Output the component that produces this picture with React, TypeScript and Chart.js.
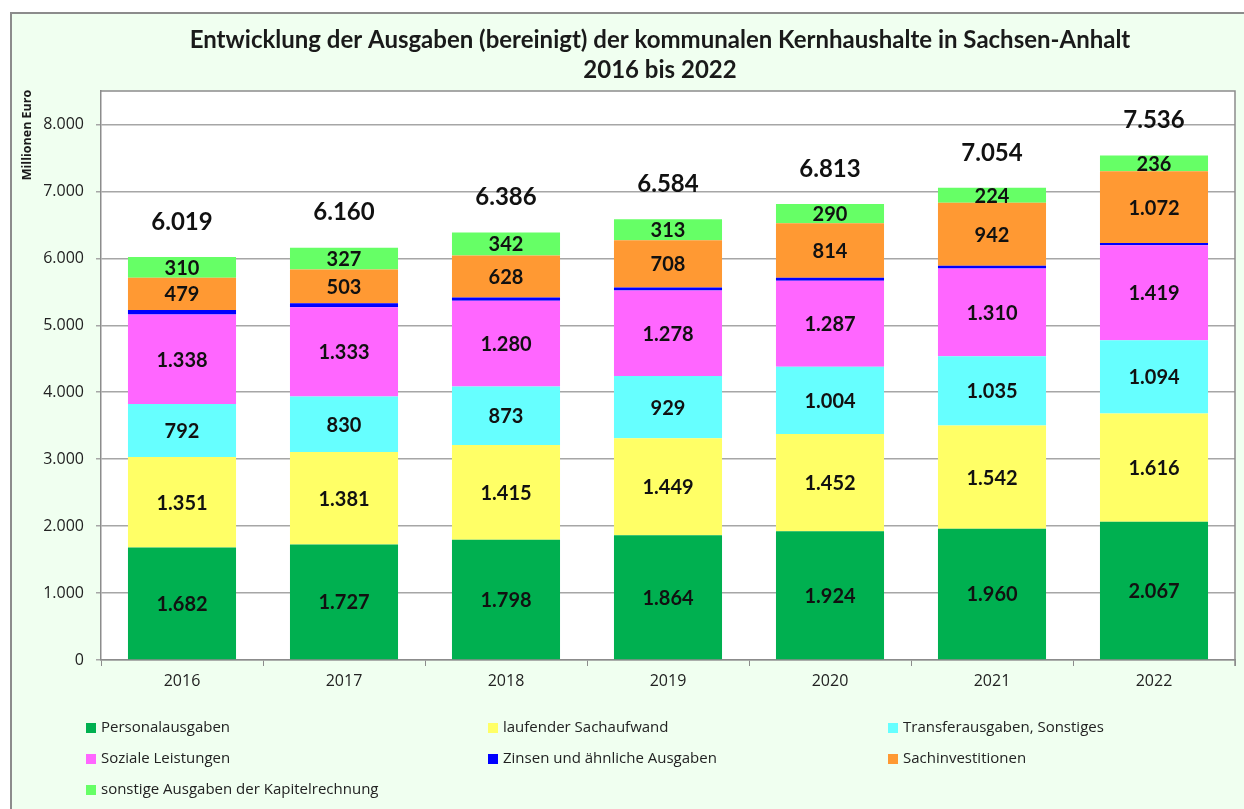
import React, { useEffect, useRef } from "react";
import { Chart, registerables } from "chart.js";
Chart.register(...registerables);

const years = ["2016", "2017", "2018", "2019", "2020", "2021", "2022"];
const personal = [1682, 1727, 1798, 1864, 1924, 1960, 2067];
const sachaufwand = [1351, 1381, 1415, 1449, 1452, 1542, 1616];
const transfer = [792, 830, 873, 929, 1004, 1035, 1094];
const sozial = [1338, 1333, 1280, 1278, 1287, 1310, 1419];
const zinsen = [67, 59, 50, 43, 42, 41, 32];
const sachinv = [479, 503, 628, 708, 814, 942, 1072];
const sonstige = [310, 327, 342, 313, 290, 224, 236];
const totals = [6019, 6160, 6386, 6584, 6813, 7054, 7536];
const yTicks = [0, 1000, 2000, 3000, 4000, 5000, 6000, 7000, 8000];

const seriesNames = [
  "Personalausgaben",
  "laufender Sachaufwand",
  "Transferausgaben, Sonstiges",
  "Soziale Leistungen",
  "Zinsen und ähnliche Ausgaben",
  "Sachinvestitionen",
  "sonstige Ausgaben der Kapitelrechnung",
];
const seriesColors = ["#00b050", "#ffff66", "#66ffff", "#ff66ff", "#0000ff", "#ff9933", "#66ff66"];
const seriesLabeled = [true, true, true, true, false, true, true];
const titleLines = [
  "Entwicklung der Ausgaben (bereinigt) der kommunalen Kernhaushalte in Sachsen-Anhalt",
  "2016 bis 2022",
];
const yTitle = "Millionen Euro";

const FONT = "Lato, 'Open Sans', sans-serif";
const FONT2 = "'Open Sans', Lato, sans-serif";
const fmt = (n: number) => String(n).replace(/\B(?=(\d{3})+(?!\d))/g, ".");

const decorPlugin = {
  id: "decor",
  beforeDraw(chart: any) {
    const { ctx, chartArea: a } = chart;
    ctx.save();
    ctx.fillStyle = "#ffffff";
    ctx.fillRect(a.left, a.top, a.right - a.left, a.bottom - a.top);
    ctx.restore();
  },
  afterDraw(chart: any) {
    const { ctx, chartArea: a } = chart;
    ctx.save();
    ctx.strokeStyle = "#8c8c8c";
    ctx.lineWidth = 1.5;
    ctx.beginPath();
    ctx.moveTo(a.left, a.top);
    ctx.lineTo(a.right, a.top);
    ctx.lineTo(a.right, a.bottom + 6);
    ctx.stroke();
    ctx.fillStyle = "#1a1a1a";
    ctx.font = `bold 24px ${FONT}`;
    ctx.textAlign = "center";
    ctx.textBaseline = "middle";
    const cx = 660;
    ctx.fillText(titleLines[0], cx, 40);
    ctx.fillText(titleLines[1], cx, 70);
    ctx.save();
    ctx.translate(27, 135);
    ctx.rotate(-Math.PI / 2);
    ctx.font = `bold 12.5px ${FONT2}`;
    ctx.fillText(yTitle, 0, 0);
    ctx.restore();
    const colX = [86, 488, 888];
    const rowY = [728, 759, 790];
    ctx.font = `15px ${FONT2}`;
    ctx.textAlign = "left";
    seriesNames.forEach((name, i) => {
      const x = colX[i % 3];
      const y = rowY[Math.floor(i / 3)];
      ctx.fillStyle = seriesColors[i];
      ctx.fillRect(x, y - 5, 10, 10);
      ctx.fillStyle = "#222";
      ctx.fillText(name, x + 15, y);
    });
    ctx.restore();
  },
  afterDatasetsDraw(chart: any) {
    const { ctx } = chart;
    ctx.save();
    ctx.fillStyle = "#111";
    ctx.textAlign = "center";
    ctx.textBaseline = "middle";
    ctx.font = `bold 20px ${FONT}`;
    chart.data.datasets.forEach((ds: any, di: number) => {
      if (!seriesLabeled[di]) return;
      const meta = chart.getDatasetMeta(di);
      meta.data.forEach((bar: any, i: number) => {
        const y = (bar.y + bar.base) / 2;
        ctx.fillText(fmt(ds.data[i]), bar.x, y + 1);
      });
    });
    ctx.font = `bold 24px ${FONT}`;
    const yScale = chart.scales.y;
    const meta0 = chart.getDatasetMeta(0);
    totals.forEach((t, i) => {
      const x = meta0.data[i].x;
      const y = yScale.getPixelForValue(t) - 35;
      ctx.fillText(fmt(t), x, y);
    });
    ctx.restore();
  },
};

export default function App() {
  const ref = useRef<HTMLCanvasElement>(null);
  useEffect(() => {
    if (!ref.current) return;
    const data = [personal, sachaufwand, transfer, sozial, zinsen, sachinv, sonstige];
    const chart = new Chart(ref.current, {
      type: "bar",
      data: {
        labels: years,
        datasets: data.map((d, i) => ({
          label: seriesNames[i],
          data: d,
          backgroundColor: seriesColors[i],
          borderWidth: 0,
          barPercentage: 0.667,
          categoryPercentage: 1,
        })),
      },
      options: {
        animation: false,
        responsive: false,
        maintainAspectRatio: false,
        layout: { padding: { left: 0, top: 91, right: 9, bottom: 109 } },
        plugins: { legend: { display: false }, title: { display: false }, tooltip: { enabled: false } },
        scales: {
          x: {
            stacked: true,
            grid: { display: true, drawOnChartArea: false, tickLength: 6, color: "#8c8c8c", offset: true },
            border: { color: "#8c8c8c", width: 1.5 },
            ticks: { color: "#222", font: { family: FONT2, size: 16 }, padding: 6 },
            afterFit: (s: any) => { s.height = 40; },
          },
          y: {
            stacked: true,
            min: 0,
            max: 8500,
            grid: { color: "#a6a6a6", tickLength: 5, lineWidth: 1.5 },
            border: { color: "#8c8c8c", width: 1.5 },
            ticks: {
              color: "#222",
              font: { family: FONT2, size: 16 },
              padding: 12,
              callback: (v: any) => fmt(Number(v)),
            },
            afterBuildTicks: (s: any) => { s.ticks = yTicks.map((v) => ({ value: v })); },
            afterFit: (s: any) => { s.width = 101; },
          },
        },
      },
      plugins: [decorPlugin],
    });
    return () => chart.destroy();
  }, []);
  return (
    <div style={{ position: "fixed", left: 0, top: 0, width: 1244, height: 809, overflow: "hidden", background: "#fff" }}>
      <div
        style={{
          position: "absolute",
          left: 10,
          top: 12,
          width: 1260,
          height: 830,
          background: "#f0fff0",
          border: "2px solid #8c8c8c",
        }}
      />
      <canvas ref={ref} width={1244} height={809} style={{ position: "absolute", left: 0, top: 0 }} />
    </div>
  );
}
